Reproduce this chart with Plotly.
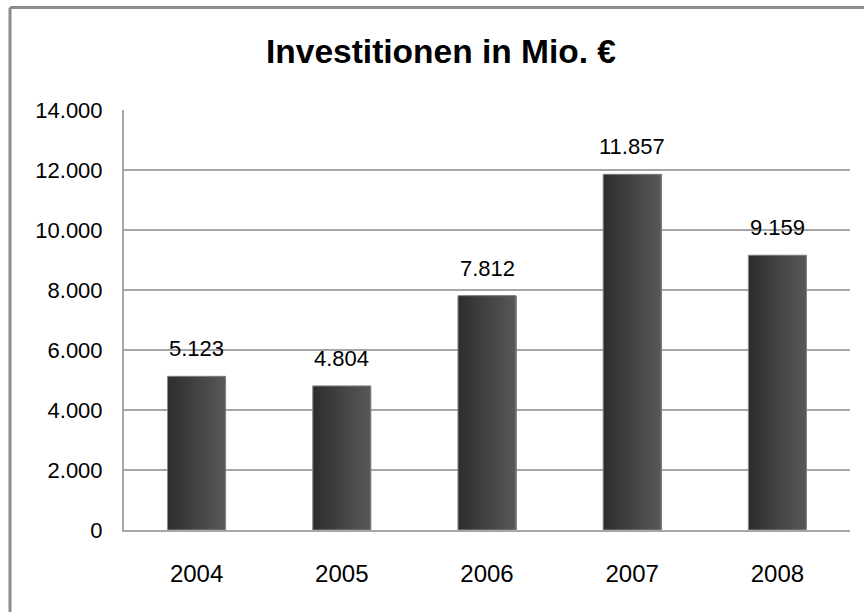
import plotly.graph_objects as go

years = ["2004", "2005", "2006", "2007", "2008"]
values = [5123, 4804, 7812, 11857, 9159]
value_labels = ["5.123", "4.804", "7.812", "11.857", "9.159"]
y_ticks = [0, 2000, 4000, 6000, 8000, 10000, 12000, 14000]
y_tick_labels = ["0", "2.000", "4.000", "6.000", "8.000", "10.000", "12.000", "14.000"]

FONT = "Liberation Sans, Arial, sans-serif"

L, R, T, B = 124, 864 - 850, 110, 612 - 530
PW, PH = 864 - L - R, 612 - T - B

fig = go.Figure()

# gradient bars built from slices, each extending to the bar's right edge
N = 24
W = 0.4
c0 = (0x2e, 0x2e, 0x2e)
c1 = (0x58, 0x58, 0x58)
for i in range(N):
    t = i / (N - 1)
    col = "rgb(%d,%d,%d)" % tuple(round(a + (b - a) * t) for a, b in zip(c0, c1))
    fig.add_trace(go.Bar(
        x=years, y=values,
        width=W - i * W / N, offset=-W / 2 + i * W / N,
        marker=dict(color=col, line=dict(width=0)),
        showlegend=False, hoverinfo="skip",
    ))
# outline
fig.add_trace(go.Bar(
    x=years, y=values, width=W, offset=-W / 2,
    marker=dict(color="rgba(0,0,0,0)", line=dict(color="#8a8a8a", width=1)),
    showlegend=False, hoverinfo="skip",
))

for idx, (v, lab) in enumerate(zip(values, value_labels)):
    fig.add_annotation(x=idx, y=v, text=lab, showarrow=False, yanchor="bottom",
                       yshift=13, font=dict(family=FONT, size=22, color="#000"))

bx = (10 - L) / PW          # outer frame, left edge
by = (PH + T - 7.5) / PH    # outer frame, top edge

fig.update_layout(
    width=864, height=612,
    margin=dict(l=L, r=R, t=T, b=B),
    paper_bgcolor="white", plot_bgcolor="white",
    barmode="overlay",
    title=dict(text="<b>Investitionen in Mio. €</b>", x=441 / 864, xanchor="center",
               y=1 - 51 / 612, yanchor="middle", yref="container",
               font=dict(family=FONT, size=33.5, color="#000")),
    xaxis=dict(type="category", range=[-0.5, 4.5], autorange=False,
               showgrid=False, showline=True, linecolor="#a6a6a6",
               linewidth=2, ticks="", ticklabelstandoff=21,
               tickfont=dict(family=FONT, size=24, color="#000")),
    yaxis=dict(range=[0, 14000], tickvals=y_ticks, ticktext=y_tick_labels,
               showgrid=True, gridcolor="#a6a6a6", gridwidth=1.5,
               showline=True, linecolor="#a6a6a6", linewidth=2,
               zeroline=False, ticks="", ticklabelstandoff=15,
               tickfont=dict(family=FONT, size=22, color="#000")),
    shapes=[
        dict(type="line", xref="paper", yref="paper",
             x0=bx, x1=bx, y0=by, y1=-(B + 10) / PH,
             line=dict(color="#8c8c8c", width=3)),
        dict(type="line", xref="paper", yref="paper",
             x0=bx, x1=(880 - L) / PW, y0=by, y1=by,
             line=dict(color="#8c8c8c", width=3)),
    ],
)

fig.write_html(
    "out.html",
    config={"displayModeBar": False, "staticPlot": True},
    post_script="document.body.style.margin='0';document.body.style.overflow='hidden';",
)
